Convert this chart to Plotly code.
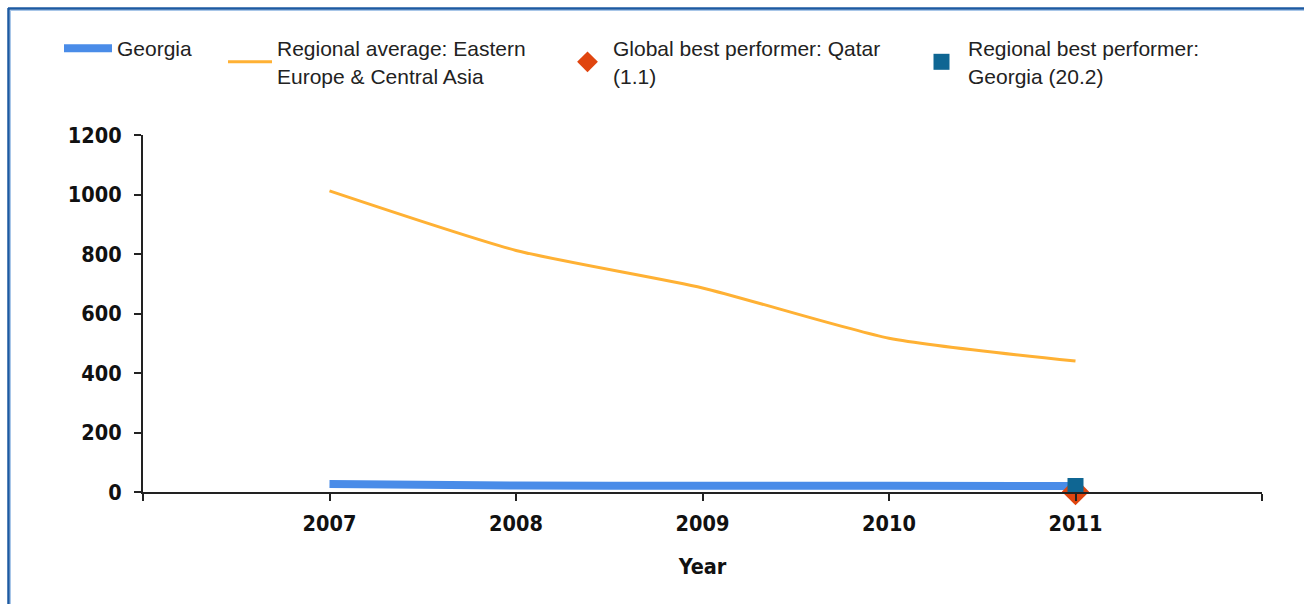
import plotly.graph_objects as go

years = [2007, 2008, 2009, 2010, 2011]
georgia = [27, 22, 21, 21, 20.2]
regional_avg = [1012, 812, 686, 517, 440]
global_best_year = [2011]
global_best_val = [1.1]
regional_best_year = [2011]
regional_best_val = [20.2]

x_tickvals = [2006, 2007, 2008, 2009, 2010, 2011, 2012]
x_ticktext = ["", "2007", "2008", "2009", "2010", "2011", ""]
y_tickvals = [0, 200, 400, 600, 800, 1000, 1200]

names = [
    "Georgia",
    "Regional average: Eastern<br>Europe & Central Asia",
    "Global best performer: Qatar<br>(1.1)",
    "Regional best performer:<br>Georgia (20.2)",
]

fig = go.Figure()
fig.add_trace(go.Scatter(x=years, y=georgia, mode="lines", name=names[0], legend="legend",
                         line=dict(color="#4A8CE8", width=8, shape="spline", smoothing=0.6)))
fig.add_trace(go.Scatter(x=years, y=regional_avg, mode="lines", name=names[1], legend="legend2",
                         line=dict(color="#FFB134", width=3, shape="spline", smoothing=0.6)))
fig.add_trace(go.Scatter(x=global_best_year, y=global_best_val, mode="markers", name=names[2],
                         legend="legend3", cliponaxis=False,
                         marker=dict(symbol="diamond", color="#E0450F", size=21)))
fig.add_trace(go.Scatter(x=regional_best_year, y=regional_best_val, mode="markers", name=names[3],
                         legend="legend4", cliponaxis=False,
                         marker=dict(symbol="square", color="#0F6693", size=16)))

W, H = 1304, 604
L, R, T, B = 143, 42, 135, 112
pw, ph = W - L - R, H - T - B


def px2x(px):
    return (px - L) / pw


def py2y(py):
    return (H - B - py) / ph


tick_font = dict(family="DejaVu Sans Condensed, DejaVu Sans", size=21.5, color="#111111", weight="bold")
leg_font = dict(family="Liberation Sans, Arial", size=21, color="#222222")


def leg(xpx, iw):
    return dict(orientation="v", x=px2x(xpx), y=py2y(28), xanchor="left", yanchor="top",
                font=leg_font, valign="middle", itemwidth=iw,
                bgcolor="rgba(0,0,0,0)", borderwidth=0)


fig.update_layout(
    width=W, height=H,
    margin=dict(l=L, r=R, t=T, b=B),
    paper_bgcolor="white", plot_bgcolor="white",
    showlegend=True,
    legend=leg(59, 48),
    legend2=leg(223, 44),
    legend3=leg(562, 41),
    legend4=leg(915, 43),
    xaxis=dict(range=[2006, 2012], tickvals=x_tickvals, ticktext=x_ticktext,
               showgrid=False, zeroline=False, showline=True, linecolor="#222222", linewidth=2,
               ticks="outside", ticklen=7, tickwidth=2, tickcolor="#222222",
               tickfont=tick_font, ticklabelstandoff=4,
               title=dict(text="Year", font=tick_font, standoff=24)),
    yaxis=dict(range=[0, 1200], tickvals=y_tickvals,
               showgrid=False, zeroline=False, showline=True, linecolor="#222222", linewidth=2,
               ticks="outside", ticklen=7, tickwidth=2, tickcolor="#222222",
               tickfont=tick_font, ticklabelstandoff=8),
    shapes=[
        dict(type="line", xref="paper", yref="paper", x0=px2x(8.5), x1=px2x(8.5),
             y0=py2y(8), y1=py2y(610), line=dict(color="#1C5AA2", width=2.5)),
        dict(type="line", xref="paper", yref="paper", x0=px2x(8), x1=px2x(1310),
             y0=py2y(8.5), y1=py2y(8.5), line=dict(color="#1C5AA2", width=2.5)),
        dict(type="line", xref="paper", yref="paper", x0=px2x(10.5), x1=px2x(10.5),
             y0=py2y(10), y1=py2y(610), line=dict(color="#A8C6E8", width=1)),
        dict(type="line", xref="paper", yref="paper", x0=px2x(10), x1=px2x(1310),
             y0=py2y(10.5), y1=py2y(10.5), line=dict(color="#A8C6E8", width=1)),
    ],
)

fig.write_html("out.html", config={"displayModeBar": False},
               post_script="document.body.style.margin='0';document.body.style.overflow='hidden';")
